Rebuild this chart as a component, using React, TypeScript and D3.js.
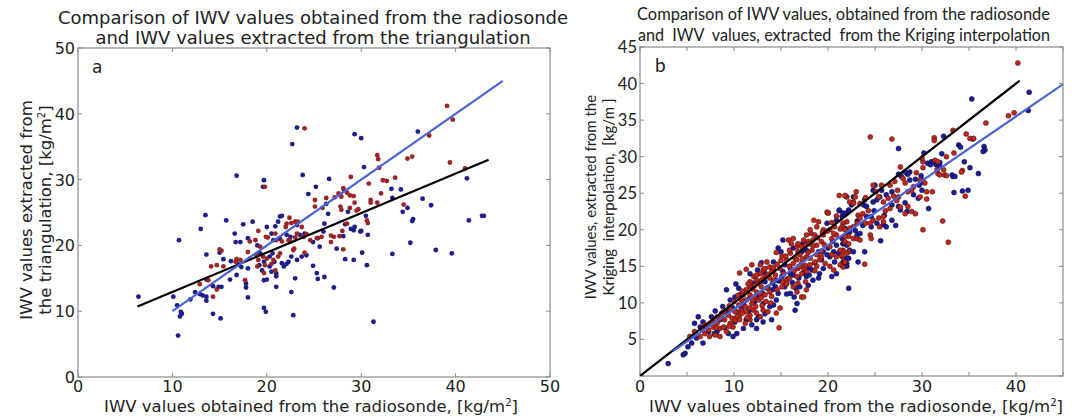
import React from "react";
import * as d3 from "d3";

type P = [number, number];

// ---------- Panel a data (triangulation) ----------
const aBlue: P[] = [
  [23.2,37.9],[22.7,35.4],[29.3,36.9],[30.0,36.3],[36.0,37.3],[16.8,30.6],[19.7,29.9],[19.6,28.9],[23.8,30.7],[30.3,31.9],
  [41.2,30.2],[26.6,30.1],[25.2,28.9],[24.4,27.8],[28.2,28.4],[33.2,28.6],[34.2,28.5],[33.3,27.2],[36.5,27.1],[37.4,26.1],
  [34.9,25.7],[34.4,25.1],[35.5,24.0],[35.4,23.7],[41.4,23.8],[42.8,24.5],[43.0,24.5],[26.3,26.3],[26.5,24.8],[28.6,25.1],
  [30.5,24.5],[29.2,22.3],[30.0,22.2],[30.7,21.6],[35.2,20.4],[37.9,19.3],[39.6,18.8],[33.3,18.7],[13.5,24.6],[15.7,23.8],
  [13.0,22.5],[10.7,20.8],[17.5,23.2],[18.5,23.6],[20.0,22.8],[20.9,22.9],[21.4,24.4],[21.6,24.5],[21.2,23.6],[23.2,23.1],
  [16.6,21.8],[16.7,20.5],[17.2,20.5],[18.0,21.1],[19.0,20.0],[20.5,21.8],[20.7,20.8],[21.4,21.0],[22.1,21.6],[22.5,21.3],
  [23.5,21.6],[24.0,21.8],[24.9,20.5],[26.1,23.3],[26.0,22.1],[28.1,21.4],[28.3,23.2],[28.9,22.5],[29.3,22.8],[29.9,22.1],
  [27.4,19.5],[28.3,17.9],[29.2,17.8],[30.1,18.9],[30.6,17.0],[13.6,18.6],[15.4,17.9],[16.2,17.6],[17.0,17.1],[17.3,16.7],
  [18.0,16.5],[19.3,18.8],[19.7,17.5],[20.3,18.3],[20.6,18.8],[20.8,17.5],[21.6,17.3],[21.8,16.8],[22.1,17.2],[22.3,17.5],
  [22.6,18.3],[23.2,17.8],[23.7,18.3],[24.2,18.5],[19.2,17.0],[19.5,16.2],[20.3,16.8],[20.5,16.0],[21.0,15.7],[21.0,15.3],
  [24.9,16.9],[25.3,15.8],[25.4,14.9],[26.1,15.2],[23.0,15.0],[27.1,13.6],[16.1,14.8],[16.8,15.5],[17.8,14.2],[17.8,13.6],
  [18.0,12.1],[19.7,14.7],[20.0,14.8],[21.0,13.7],[22.6,12.9],[13.6,14.8],[12.4,12.9],[12.9,12.6],[13.2,12.4],[13.6,12.2],
  [13.6,11.6],[14.9,13.7],[15.2,13.7],[14.3,13.8],[11.9,11.8],[10.5,10.9],[10.1,12.2],[10.9,9.9],[11.0,9.6],[10.8,9.2],
  [10.6,6.3],[14.3,9.6],[15.1,8.9],[19.7,10.5],[19.9,9.9],[22.8,9.4],[31.3,8.4],[6.4,12.2],[25.4,21.1],[25.6,19.8],
  [15.0,18.9]
];
const aRed: P[] = [
  [24.0,37.8],[37.2,36.7],[39.1,41.2],[39.7,39.1],[19.8,28.9],[31.7,33.7],[31.8,33.1],[34.9,33.2],[35.4,33.5],[31.9,31.8],
  [39.4,32.6],[41.0,31.7],[28.9,30.4],[30.8,29.4],[32.3,29.9],[32.7,29.8],[33.6,30.3],[25.1,26.9],[28.1,28.7],[27.6,27.9],
  [28.5,28.0],[28.8,27.6],[27.9,27.4],[29.2,27.5],[29.3,26.5],[26.3,27.2],[27.2,27.3],[32.1,27.9],[31.0,26.5],[31.0,26.9],
  [31.7,26.5],[34.5,26.2],[25.9,25.7],[25.1,25.9],[27.8,25.9],[27.9,25.4],[28.8,25.7],[29.7,25.5],[29.5,25.3],[30.6,23.8],
  [30.7,23.4],[19.1,22.2],[22.1,23.3],[22.4,24.2],[22.6,23.4],[22.0,22.8],[23.0,23.6],[23.3,23.6],[23.7,22.8],[18.2,20.6],
  [18.8,20.8],[19.3,19.8],[19.9,21.3],[20.1,21.2],[20.9,21.8],[21.0,20.8],[21.6,20.6],[22.3,20.8],[22.5,20.6],[23.0,21.2],
  [23.2,21.8],[23.9,21.3],[24.2,21.7],[24.6,20.8],[25.3,21.1],[25.8,21.3],[26.8,21.5],[27.1,21.3],[27.7,21.4],[28.0,22.2],
  [28.5,23.3],[26.8,20.5],[28.1,19.4],[15.0,19.4],[15.2,19.2],[14.1,16.8],[14.7,17.0],[15.4,16.8],[16.8,17.9],[16.7,17.5],
  [17.2,17.8],[18.0,19.0],[18.2,18.0],[18.9,18.5],[19.1,17.8],[19.6,18.3],[20.0,18.0],[19.8,17.0],[20.7,17.8],[21.2,18.3],
  [21.4,18.8],[22.8,19.3],[22.9,19.5],[24.0,18.9],[19.0,16.8],[19.7,15.8],[20.5,17.2],[20.9,16.2],[17.7,14.7],[13.8,14.7],
  [12.9,14.1],[14.3,12.2],[14.7,13.3]
];
const aBlueLine: P[] = [[10, 10], [45, 45]];
const aBlackLine: P[] = [[6.3, 10.7], [43.5, 33.0]];
const aTicks = [0, 10, 20, 30, 40, 50];

// ---------- Panel b data (Kriging) ----------
const bBlue: P[] = [
  [41.4,38.8],[41.3,36.3],[35.3,37.9],[27.5,31.1],[32.3,32.8],[33.9,31.6],[34.1,31.3],[35.4,32.4],[36.6,31.4],[36.7,30.9],
  [36.5,30.7],[30.2,30.5],[31.2,29.3],[31.5,28.9],[31.9,29.2],[34.5,29.3],[35.1,28.5],[36.0,27.7],[33.3,27.3],[33.4,25.1],
  [34.3,25.3],[34.9,25.4],[30.7,22.9],[30.0,26.8],[30.1,26.5],[28.4,27.7],[27.8,27.3],[28.7,27.9],
  [31.0,29.3],[31.6,29.1],[31.9,28.7],[29.7,26.1],[28.5,27.6],[28.7,26.8],[29.3,26.9],[29.9,27.4],[27.5,27.6],[28.2,27.9],
  [29.1,24.8],[29.6,24.3],[30.0,25.4],[26.8,25.2],[26.2,24.8],[25.0,26.1],[24.8,25.4],[25.7,25.4],[25.2,24.1],[24.8,23.8],
  [25.5,24.5],[26.8,23.4],[27.5,23.2],[28.2,23.7],[27.7,22.7],[28.4,22.5],[23.9,24.1],[23.8,23.4],[24.1,23.2],[22.5,23.4],
  [22.2,22.7],[21.6,22.3],[24.1,21.8],[24.6,21.8],[25.2,20.9],[25.9,20.7],[26.2,20.4],[21.8,20.2],[22.3,19.7],[22.9,19.9],
  [23.1,19.3],[23.4,19.5],[22.0,19.3],[21.5,18.8],[21.6,18.1],[22.0,17.9],[25.6,18.5],[22.3,17.2],[22.7,17.0],[22.2,16.1],
  [22.0,15.4],[23.2,15.6],[23.9,17.0],[22.2,12.0],[32.1,30.4],[30.6,29.1],[30.9,28.9],[33.2,27.5],[33.5,27.3],
  [21.2,22.6],[19.9,20.9],[15.2,18.6],[20.9,17.9],[21.6,18.1],[17.7,17.2],[17.2,17.0],[16.3,17.5],[14.7,17.5],[15.0,17.0],
  [19.5,17.0],[20.2,16.3],[20.7,15.6],[19.5,14.7],[19.1,14.0],[20.4,13.6],[21.5,15.2],[21.6,15.6],[18.4,13.1],[18.3,14.5],
  [17.7,13.6],[15.4,15.2],[16.0,14.0],[15.1,13.6],[15.2,14.3],[16.4,10.8],[16.7,9.9],[16.5,9.0],[14.5,13.1],[14.4,12.2],
  [14.1,11.8],[11.7,14.0],[12.1,12.7],[12.8,12.9],[13.3,12.9],[14.7,11.3],[14.5,10.4],[14.2,9.7],[13.8,9.5],[13.1,9.9],
  [12.2,10.2],[9.2,11.8],[10.5,12.0],[10.6,11.1],[10.1,10.8],[9.6,10.4],[12.6,8.1],[12.4,7.7],[13.1,7.4],[14.0,7.7],
  [12.4,6.5],[6.2,8.1],[6.7,7.4],[7.6,8.1],[6.4,6.7],[5.8,7.2],[6.7,6.5],[9.4,5.8],[10.3,5.8],[11.0,6.5],
  [11.3,7.7],[10.1,7.4],[5.5,4.5],[6.7,4.5],[6.0,5.2],[4.8,3.1],[4.6,2.9],[3.0,1.7],[5.1,4.0],
  [20.9,21.3],[21.5,21.8],[22.0,22.3],[19.0,17.0],[20.0,17.5],[22.0,16.1],[22.0,15.0],[20.9,14.0],[19.0,13.4],[16.3,13.8],
  [15.4,12.2],[16.0,11.3],[17.0,12.2],[17.9,12.4],[8.5,7.7],[9.2,8.8],[8.2,6.1],[9.9,5.4],[21.2,22.7],[22.7,24.5],
  [8.0,8.9],[8.8,9.5],[9.9,9.3],[11.0,9.9],[11.7,10.7],[12.4,10.9],[13.0,11.4],[13.6,12.1],[14.1,12.7],[14.8,13.0],
  [15.7,13.3],[16.2,12.8],[16.9,13.4],[17.4,14.1],[18.0,14.8],[18.6,15.5],[19.3,15.9],[19.9,16.6],[20.6,17.0],[21.1,16.8],
  [18.0,13.8],[16.6,12.0],[15.6,11.2],[13.3,8.5],[11.9,7.0],[7.9,5.8],[7.3,6.1],[9.0,6.6],[10.8,9.2],[11.6,8.9],
  [14.2,15.6],[13.2,14.2],[12.5,14.5],[10.2,12.6],[23.1,21.2],[23.7,20.6],[24.6,20.4],[26.8,21.3],[27.2,20.6],[24.9,22.6],
  [26.0,22.0],[20.5,18.4],[17.3,18.1],[12.9,15.5]
];
const bRed: P[] = [
  [40.2,42.8],[39.2,35.6],[39.8,36.0],[36.8,34.6],[24.5,32.7],[26.8,32.4],[33.3,33.6],[31.3,32.6],[31.3,32.2],[34.7,33.1],
  [35.1,32.5],[35.5,32.5],[33.4,30.5],[34.3,28.1],[32.4,27.5],[31.7,27.7],[32.6,27.4],[30.1,29.3],[34.6,24.6],[32.2,21.2],
  [32.8,18.3],[30.1,20.0],[30.5,25.2],[31.1,25.2],[30.5,24.2],[27.7,28.6],
  [31.4,29.5],[31.7,29.3],[32.3,28.2],[30.1,28.5],[30.0,29.8],[29.4,27.8],[29.8,26.8],[28.0,27.0],[28.2,26.4],[27.4,25.4],
  [29.1,25.9],[28.9,25.4],[28.5,25.2],[29.8,24.5],[30.3,26.4],[27.1,26.6],[26.6,26.1],[25.7,26.1],[24.8,26.1],[25.4,24.5],
  [25.9,23.8],[26.4,24.3],[27.0,24.6],[27.5,24.5],[27.7,23.1],[28.5,23.2],[28.9,22.5],[29.3,22.2],[28.2,22.2],[22.9,24.5],
  [22.0,24.5],[22.7,23.8],[23.4,23.6],[23.2,22.0],[23.4,21.6],[24.0,20.9],[24.5,20.9],[24.8,21.3],[25.4,21.6],[25.9,21.8],
  [25.5,20.4],[25.9,21.1],[23.1,20.9],[22.7,20.4],[22.3,20.2],[22.0,21.1],[21.6,20.9],[21.5,20.4],[22.2,19.1],[22.7,18.8],
  [21.8,18.4],[23.1,18.8],[23.4,18.6],[24.5,19.3],[24.6,18.8],[21.6,17.2],[22.2,17.0],[21.5,16.3],[21.8,15.6],[21.3,15.2],
  [23.9,15.3],[21.6,14.9],[32.6,30.0],[31.6,28.2],[31.9,27.5],[34.2,27.9],
  [21.9,24.6],[19.9,22.4],[20.0,22.3],[18.5,21.3],[18.8,20.4],[20.2,20.0],[20.7,20.4],[21.3,20.1],[21.8,20.0],[18.2,19.5],
  [18.6,19.3],[19.5,19.3],[17.4,18.6],[17.9,18.4],[18.4,18.6],[18.8,17.9],[19.3,18.4],[20.2,17.7],[21.3,17.2],[22.0,16.8],
  [16.7,17.7],[16.8,17.0],[16.0,16.8],[14.5,16.9],[15.1,16.4],[18.8,16.6],[19.1,15.9],[18.1,16.1],[17.7,16.3],[20.2,15.0],
  [18.8,15.0],[18.1,15.2],[17.7,14.3],[17.2,14.0],[16.7,13.6],[17.6,12.9],[16.8,12.7],[16.3,15.4],[16.0,14.7],[15.6,15.9],
  [16.5,16.1],[15.6,13.1],[15.2,12.9],[16.3,12.2],[16.7,11.5],[17.2,10.8],[17.7,11.8],[17.4,10.8],[13.5,15.6],[13.8,14.9],
  [13.1,14.5],[12.8,14.0],[13.3,13.6],[13.8,13.4],[12.1,13.6],[12.4,13.1],[11.7,12.9],[12.2,12.4],[12.9,12.2],[13.5,12.0],
  [13.8,11.5],[13.3,11.1],[12.8,11.3],[12.4,11.5],[10.6,14.1],[11.7,12.2],[11.3,11.8],[11.0,11.1],[11.7,11.1],[12.2,10.8],
  [12.6,10.4],[11.9,9.9],[11.3,10.4],[10.8,10.4],[10.5,9.7],[11.2,9.5],[11.7,9.3],[10.8,9.0],[10.3,8.8],[11.3,8.8],
  [12.1,9.0],[12.4,8.6],[10.6,8.3],[10.3,8.1],[11.7,8.3],[13.1,9.0],[13.6,8.8],[12.8,8.1],[14.5,8.6],[14.9,9.3],
  [14.8,6.6],[6.9,7.0],[7.3,6.3],[7.8,6.7],[8.2,7.2],[8.5,6.5],[8.9,6.7],[9.6,7.2],[9.9,6.7],[9.2,6.1],
  [8.5,5.4],[8.0,5.6],[7.4,5.4],[5.8,6.1],[6.4,5.4],[5.3,5.4],
  [11.3,14.6],[11.9,15.2],[12.8,15.2],[13.3,14.7],[12.4,13.8],[14.0,14.3],[14.4,13.8],[14.2,13.1],[14.9,14.7],[15.8,18.6],
  [16.1,18.1],[16.3,18.8],[16.8,18.1],[17.2,17.7],[17.6,17.9],[17.7,19.3],[16.7,15.9],[17.2,15.4],[17.4,14.7],[16.8,14.7],
  [18.3,17.2],[18.6,15.6],[19.3,16.3],[19.7,15.4],[20.6,14.5],[20.9,16.3],[21.5,16.5],[21.8,19.1],[22.2,18.1],[20.9,19.3],
  [20.4,18.8],[19.5,20.0],[19.0,21.1],[18.1,20.0],[9.4,8.3],[9.8,7.9],[9.0,7.7],[10.1,8.8],[10.6,7.7],[11.2,7.2],
  [11.7,7.7],[8.7,8.6],[8.2,8.1],[7.8,7.7],[6.9,5.8],[21.2,24.7],[21.8,24.7],[22.3,23.8],[22.7,23.6],[20.0,22.3],
  [9.5,9.6],[10.0,10.2],[10.4,11.0],[10.9,11.6],[11.5,12.6],[12.0,11.9],[12.6,12.7],[13.0,13.2],[13.6,13.9],[14.2,14.8],
  [14.6,15.3],[15.0,15.8],[15.5,16.4],[15.9,17.2],[12.0,10.4],[12.9,10.7],[13.4,10.2],[14.0,10.9],[14.6,11.8],[15.1,12.2],
  [15.6,12.6],[15.9,13.4],[16.4,14.4],[16.9,15.0],[17.3,16.0],[17.9,16.9],[18.4,17.8],[18.9,18.9],[19.4,19.6],[19.9,19.8],
  [20.4,21.0],[20.9,21.9],[10.9,8.6],[11.4,8.0],[12.3,9.5],[13.0,9.6],[13.9,10.0],[9.6,9.2],[9.0,8.9],[8.6,7.9],
  [7.6,7.3],[7.1,6.8],[6.6,6.4],[8.1,6.6],[9.5,6.8],[10.1,7.6],[15.3,14.0],[15.9,15.0],[17.0,16.6],[18.0,18.1],
  [19.6,18.0],[20.6,19.5],[23.7,22.2],[24.3,22.6],[26.1,22.6],[26.6,22.9],[27.3,24.0],[24.0,24.4],[23.0,25.2],[25.1,25.2],
  [19.3,17.1],[20.4,16.6],[17.6,15.1],[18.6,14.4]
];
const bBlackLine: P[] = [[0, 0], [40.4, 40.4]];
const bBlueLine: P[] = [[3.5, 3.4], [45, 39.9]];
const bMinorTicks = [0, 5, 10, 15, 20, 25, 30, 35, 40, 45];
const bXLabels = [0, 10, 20, 30, 40];
const bYLabels = [5, 10, 15, 20, 25, 30, 35, 40, 45];

const DV = "DejaVu Sans";
const CAL = "Lato, 'Open Sans', sans-serif";
const FRAME = "#8a8a8a";
const NAVY = "#1d1d8c";
const DRED = "#9c2424";
const LBLUE = "#4a63d6";

const Frame = ({ x0, x1, y0, y1 }: any) => (
  <rect x={x0} y={y0} width={x1 - x0} height={y1 - y0} fill="white" stroke={FRAME} strokeWidth={1.2} />
);

export default function App() {
  const ax = d3.scaleLinear().domain([0, 50]).range([78, 550]);
  const ay = d3.scaleLinear().domain([0, 50]).range([377, 48]);
  const bx = d3.scaleLinear().domain([0, 45]).range([640, 1063]);
  const by = d3.scaleLinear().domain([0, 45]).range([376, 47]);

  const aLine = d3.line<P>().x((d) => ax(d[0])).y((d) => ay(d[1]));
  const bLine = d3.line<P>().x((d) => bx(d[0])).y((d) => by(d[1]));
  const tl = 4;

  return (
    <svg width={1079} height={418} style={{ position: "absolute", left: 0, top: 0, background: "white" }}>
      <defs>
        <clipPath id="clipB"><rect x={640} y={47} width={423} height={329} /></clipPath>
      </defs>
      <rect x={0} y={0} width={1079} height={418} fill="white" />

      {/* ---------------- Panel a ---------------- */}
      <Frame x0={78} x1={550} y0={48} y1={377} />
      {aTicks.map((t) => (
        <g key={"at" + t} stroke={FRAME} strokeWidth={1}>
          <line x1={ax(t)} x2={ax(t)} y1={377} y2={377 - tl} />
          <line x1={ax(t)} x2={ax(t)} y1={48} y2={48 + tl} />
          <line x1={78} x2={78 + tl} y1={ay(t)} y2={ay(t)} />
          <line x1={550} x2={550 - tl} y1={ay(t)} y2={ay(t)} />
        </g>
      ))}
      {aBlue.map((d, i) => (
        <circle key={"ab" + i} cx={ax(d[0])} cy={ay(d[1])} r={2.4} fill={NAVY} />
      ))}
      {aRed.map((d, i) => (
        <circle key={"ar" + i} cx={ax(d[0])} cy={ay(d[1])} r={2.4} fill={DRED} />
      ))}
      <path d={aLine(aBlackLine) || ""} stroke="black" strokeWidth={2.2} fill="none" />
      <path d={aLine(aBlueLine) || ""} stroke={LBLUE} strokeWidth={2.2} fill="none" />
      <g fontFamily={DV} fontSize={16} fill="#222">
        {aTicks.map((t) => (
          <text key={"axl" + t} x={ax(t)} y={392} textAnchor="middle">{t}</text>
        ))}
        {aTicks.map((t) => (
          <text key={"ayl" + t} x={75} y={ay(t) + 6} textAnchor="end">{t}</text>
        ))}
        <text x={92} y={73} fontSize={17}>a</text>
        <text x={313} y={24} textAnchor="middle" fontSize={18}>Comparison of IWV values obtained from the radiosonde</text>
        <text x={313} y={44} textAnchor="middle" fontSize={18}>and IWV values extracted from the triangulation</text>
        <text x={311} y={412} textAnchor="middle" fontSize={16.5}>
          IWV values obtained from the radiosonde, [kg/m<tspan fontSize={10} dy={-6}>2</tspan><tspan dy={6}>]</tspan>
        </text>
        <text transform="translate(32,210) rotate(-90)" textAnchor="middle" fontSize={16.5}>IWV values extracted from</text>
        <text transform="translate(51,210) rotate(-90)" textAnchor="middle" fontSize={16.5}>
          the triangulation, [kg/m<tspan fontSize={10} dy={-6}>2</tspan><tspan dy={6}>]</tspan>
        </text>
      </g>

      {/* ---------------- Panel b ---------------- */}
      <Frame x0={640} x1={1063} y0={47} y1={376} />
      {bMinorTicks.map((t) => (
        <g key={"bt" + t} stroke={FRAME} strokeWidth={1}>
          <line x1={bx(t)} x2={bx(t)} y1={376} y2={376 - tl} />
          <line x1={bx(t)} x2={bx(t)} y1={47} y2={47 + tl} />
          <line x1={640} x2={640 + tl} y1={by(t)} y2={by(t)} />
          <line x1={1063} x2={1063 - tl} y1={by(t)} y2={by(t)} />
        </g>
      ))}
      <g clipPath="url(#clipB)">
        {bBlue.map((d, i) => (
          <circle key={"bb" + i} cx={bx(d[0])} cy={by(d[1])} r={2.5} fill="#1a1aa6" stroke="#111" strokeWidth={0.5} />
        ))}
        {bRed.map((d, i) => (
          <circle key={"br" + i} cx={bx(d[0])} cy={by(d[1])} r={2.5} fill="#c0281e" stroke="#3a0a0a" strokeWidth={0.5} />
        ))}
        <path d={bLine(bBlackLine) || ""} stroke="black" strokeWidth={2.2} fill="none" />
        <path d={bLine(bBlueLine) || ""} stroke={LBLUE} strokeWidth={2.2} fill="none" />
      </g>
      <g fontFamily={DV} fontSize={16} fill="#222">
        {bXLabels.map((t) => (
          <text key={"bxl" + t} x={bx(t)} y={392} textAnchor="middle">{t}</text>
        ))}
        <text x={856} y={412} textAnchor="middle" fontSize={16.5}>
          IWV values obtained from the radiosonde, [kg/m<tspan fontSize={10} dy={-6}>2</tspan><tspan dy={6}>]</tspan>
        </text>
      </g>
      <g fontFamily={CAL} fontSize={16} fill="#222">
        {bYLabels.map((t) => (
          <text key={"byl" + t} x={637} y={by(t) + 6} textAnchor="end" fontSize={16.5}>{t}</text>
        ))}
        <text x={655} y={72} fontSize={19}>b</text>
        <text x={637} y={20} fontSize={16.5} xmlSpace="preserve" textLength={413} lengthAdjust="spacingAndGlyphs">Comparison of IWV values, obtained from the radiosonde</text>
        <text x={638} y={41} fontSize={16.5} xmlSpace="preserve" textLength={412} lengthAdjust="spacingAndGlyphs">{"and  IWV  values, extracted  from the Kriging interpolation"}</text>
        <text transform="translate(596,197) rotate(-90)" textAnchor="middle" fontSize={15} xmlSpace="preserve">IWV values, extracted from the</text>
        <text transform="translate(614,197) rotate(-90)" textAnchor="middle" fontSize={15} xmlSpace="preserve">{"Kriging  interpolation,  [kg/m ]"}</text>
      </g>
    </svg>
  );
}
